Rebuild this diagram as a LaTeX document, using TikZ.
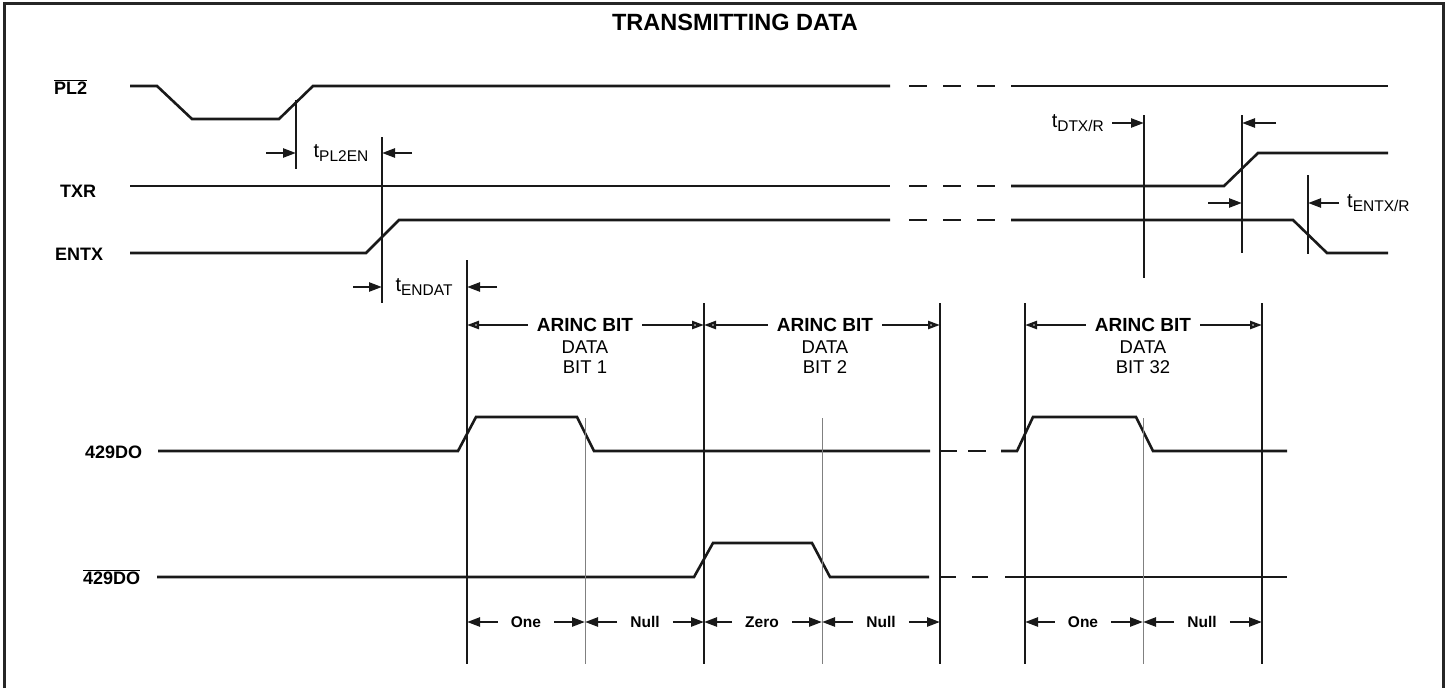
\documentclass[tikz,border=0pt]{standalone}
\usepackage{fontspec}
\setmainfont{Liberation Sans}
\usepackage{tikz}
\usetikzlibrary{positioning,arrows.meta}

% t with a lowered subscript, as on the data sheet
\newcommand{\tlab}[1]{\fontsize{20}{22}\selectfont t\raisebox{-4pt}{\fontsize{15.5}{16}\selectfont #1}}

\begin{document}
\begin{tikzpicture}[x=1pt, y=-1pt,
  boxline/.style={line width=3pt, black!85},
  sig/.style={line width=2.6pt, black!90},
  brk/.style={sig, dash pattern=on 18pt off 16pt},
  tline/.style={line width=2.2pt, black!90},
  bitline/.style={line width=2.5pt, black!90},
  midline/.style={line width=1pt, black!50},
  tarr/.style={line width=2.4pt, black!90, -{Triangle[length=13pt,width=9pt]}},
  barr/.style={line width=2.4pt, black!90, -{Triangle[open,length=12pt,width=8pt]}},
  ttl/.style={font=\fontsize{23.5}{26}\selectfont\bfseries},
  lbl/.style={font=\fontsize{18}{20}\selectfont\bfseries, inner sep=0pt, anchor=base west},
  arinc/.style={font=\fontsize{19}{21}\selectfont\bfseries, inner xsep=9pt, inner ysep=0pt},
  bitname/.style={font=\fontsize{18.5}{20}\selectfont, align=center, inner sep=0pt},
  seg/.style={font=\fontsize{15.5}{17}\selectfont\bfseries, inner xsep=13pt, inner ysep=0pt},
  tnote/.style={inner xsep=8pt, inner ysep=0pt}]

  \useasboundingbox (0,0) rectangle (1445,688);

  % frame and title
  \draw[boxline] (4,688) -- (4,3) -- (1443.5,3) -- (1443.5,688);
  \node[ttl] (title) at (735,22) {TRANSMITTING DATA};

  % signal names
  \node[lbl] (pl2) at (54,94) {$\overline{\mbox{PL2}}$};
  \node[lbl] (txr) at (60,197) {TXR};
  \node[lbl] (entx) at (55,260) {ENTX};
  \node[lbl] (do) at (85,458) {429DO};
  \node[lbl] (dobar) at (83,584) {$\overline{\mbox{429DO}}$};

  % control lines
  \draw[sig] (130,86) -- (157,86) -- (192,119) -- (279,119) -- (313,86) -- (890,86);
  \draw[sig] (130,186) -- (890,186);
  \draw[sig] (130,253) -- (366,253) -- (399,220) -- (890,220);
  \foreach \y in {86,186,220} \draw[brk] (909,\y) -- (995,\y);
  \draw[sig] (1011,86) -- (1388,86);
  \draw[sig] (1011,186) -- (1224,186) -- (1258,153) -- (1388,153);
  \draw[sig] (1011,220) -- (1293,220) -- (1327,253) -- (1388,253);

  % data outputs
  \draw[sig] (158,451) -- (458,451) -- (476,417) -- (577,417) -- (594,451) -- (930,451);
  \draw[sig, dash pattern=on 18pt off 11pt] (939,451) -- (986,451);
  \draw[sig] (1001,451) -- (1017,451) -- (1033,417) -- (1136,417) -- (1153,451) -- (1287,451);
  \draw[sig] (157,577) -- (694,577) -- (713,543) -- (812,543) -- (830,577) -- (929,577);
  \draw[sig, dash pattern=on 17pt off 16pt] (939,577) -- (988,577);
  \draw[sig] (1005,577) -- (1287,577);

  % timing marks
  \draw[tline] (296,100) -- (296,169);
  \draw[tline] (382,137) -- (382,303);
  \draw[tline] (1144,115) -- (1144,278);
  \draw[tline] (1242,115) -- (1242,253);
  \draw[tline] (1308,175) -- (1308,254);

  \node[tnote] (tpl) at (341,153) {\tlab{PL2EN}};
  \draw[tarr] (266,153) -- (296,153);
  \draw[tarr] (412,153) -- (382,153);
  \node[tnote] (tend) at (424,287) {\tlab{ENDAT}};
  \draw[tarr] (353,287) -- (382,287);
  \draw[tarr] (497,287) -- (467,287);
  \node[tnote, anchor=east] (tdtx) at (1112,123) {\tlab{DTX/R}};
  \draw[tarr] (tdtx.east) -- (1144,123);
  \draw[tarr] (1276,123) -- (1242,123);
  \draw[tarr] (1208,203) -- (1242,203);
  \node[tnote, anchor=west] (tentx) at (1339,203) {\tlab{ENTX/R}};
  \draw[tarr] (tentx.west) -- (1308,203);

  % bit cells
  \coordinate (b0) at (467,0);
  \coordinate (b1) at (704,0);
  \coordinate (b2) at (940,0);
  \coordinate (b3) at (1025,0);
  \coordinate (b4) at (1262,0);
  \coordinate (m1) at (585,0);
  \coordinate (m2) at (822,0);
  \coordinate (m3) at (1143,0);
  \draw[bitline] (467,260) -- (467,664);
  \foreach \x in {704,940,1025,1262} \draw[bitline] (\x,303) -- (\x,664);
  \foreach \x in {585,822,1143} \draw[midline] (\x,418) -- (\x,664);

  \node[arinc] (ar1) at (585,325) {ARINC BIT};
  \node[bitname] (bn1) at (585,357) {DATA\\BIT 1};
  \draw[barr] (ar1.west) -- (ar1.west -| b0);
  \draw[barr] (ar1.east) -- (ar1.east -| b1);
  \node[arinc] (ar2) at (825,325) {ARINC BIT};
  \node[bitname] (bn2) at (825,357) {DATA\\BIT 2};
  \draw[barr] (ar2.west) -- (ar2.west -| b1);
  \draw[barr] (ar2.east) -- (ar2.east -| b2);
  \node[arinc] (ar3) at (1143,325) {ARINC BIT};
  \node[bitname] (bn3) at (1143,357) {DATA\\BIT 32};
  \draw[barr] (ar3.west) -- (ar3.west -| b3);
  \draw[barr] (ar3.east) -- (ar3.east -| b4);

  % one / null / zero
  \node[seg] (one1) at (526,622) {One};
  \draw[tarr] (one1.west) -- (one1.west -| b0);
  \draw[tarr] (one1.east) -- (one1.east -| m1);
  \node[seg] (null1) at (645,622) {Null};
  \draw[tarr] (null1.west) -- (null1.west -| m1);
  \draw[tarr] (null1.east) -- (null1.east -| b1);
  \node[seg] (zero2) at (762,622) {Zero};
  \draw[tarr] (zero2.west) -- (zero2.west -| b1);
  \draw[tarr] (zero2.east) -- (zero2.east -| m2);
  \node[seg] (null2) at (881,622) {Null};
  \draw[tarr] (null2.west) -- (null2.west -| m2);
  \draw[tarr] (null2.east) -- (null2.east -| b2);
  \node[seg] (one3) at (1083,622) {One};
  \draw[tarr] (one3.west) -- (one3.west -| b3);
  \draw[tarr] (one3.east) -- (one3.east -| m3);
  \node[seg] (null3) at (1202,622) {Null};
  \draw[tarr] (null3.west) -- (null3.west -| m3);
  \draw[tarr] (null3.east) -- (null3.east -| b4);
\end{tikzpicture}
\end{document}
